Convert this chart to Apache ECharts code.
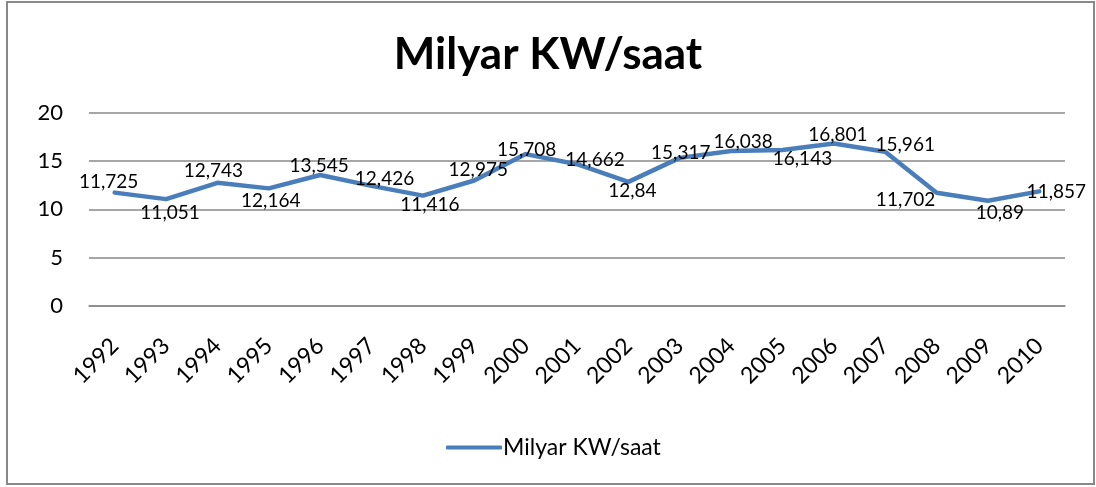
<!DOCTYPE html>
<html>
<head>
<meta charset="utf-8">
<script src="https://cdn.jsdelivr.net/npm/echarts@6/dist/echarts.min.js"></script>
<style>
  html, body { margin: 0; padding: 0; background: #fff; }
  #chart { width: 1096px; height: 487px; }
</style>
</head>
<body>
<div id="chart"></div>
<script>
// Annual electricity figures (milyar KW/saat)
const years = ['1992','1993','1994','1995','1996','1997','1998','1999','2000','2001',
               '2002','2003','2004','2005','2006','2007','2008','2009','2010'];
const values = [11.725, 11.051, 12.743, 12.164, 13.545, 12.426, 11.416, 12.975, 15.708, 14.662,
                12.84, 15.317, 16.038, 16.143, 16.801, 15.961, 11.702, 10.89, 11.857];
const yTicks = [0, 5, 10, 15, 20];
const seriesName = 'Milyar KW/saat';

// Per-point nudges so the value labels sit clear of the line
const labelOffsets = [[-6,-11],[4,14],[-4,-12],[2,13],[-1,-9],[13,-7],[7,9],[4,-11],[1,-4],[18,-4],
                      [4,9],[1,-5],[12,-9],[20,9],[4,-9],[20,-7],[-31,7],[12,12],[17,1]];

const FONT = 'Lato';
const LINE_COLOR = '#4A7EBB';

const chart = echarts.init(document.getElementById('chart'), null, { renderer: 'canvas' });

const seriesData = values.map((v, i) => ({
  value: v,
  label: { offset: labelOffsets[i] }
}));

chart.setOption({
  animation: false,
  backgroundColor: '#ffffff',
  textStyle: { fontFamily: FONT },
  title: {
    text: seriesName,
    left: 'center',
    top: 28,
    textStyle: { fontFamily: FONT, fontWeight: 'bold', fontSize: 44, color: '#000' }
  },
  legend: {
    left: 441,
    top: 431,
    itemWidth: 56,
    itemHeight: 4,
    itemGap: 10,
    icon: 'roundRect',
    data: [seriesName],
    textStyle: { fontFamily: FONT, fontSize: 23, color: '#000', padding: [0, 0, 0, -4] }
  },
  grid: { left: 89, right: 31, top: 112.6, bottom: 181, containLabel: false },
  xAxis: {
    type: 'category',
    data: years,
    boundaryGap: true,
    axisLine: { show: true, lineStyle: { color: '#898989', width: 1.5 } },
    axisTick: { show: false },
    axisLabel: {
      rotate: 45,
      margin: 36,
      interval: 0,
      fontFamily: FONT,
      fontSize: 23,
      color: '#000'
    }
  },
  yAxis: {
    type: 'value',
    min: yTicks[0],
    max: yTicks[yTicks.length - 1],
    interval: 5,
    axisLine: { show: false },
    axisTick: { show: false },
    splitLine: { lineStyle: { color: '#898989', width: 1.5 } },
    axisLabel: { margin: 26, fontFamily: FONT, fontSize: 22, color: '#000' }
  },
  graphic: [{
    type: 'rect',
    shape: { x: 7, y: 2, width: 1087, height: 482 },
    style: { fill: 'none', stroke: '#898989', lineWidth: 2 },
    silent: true,
    z: 100
  }],
  series: [{
    name: seriesName,
    type: 'line',
    data: seriesData,
    symbol: 'circle',
    symbolSize: 1,
    showSymbol: true,
    itemStyle: { color: LINE_COLOR },
    lineStyle: { color: LINE_COLOR, width: 4.5, cap: 'round', join: 'round' },
    emphasis: { disabled: true },
    label: {
      show: true,
      position: 'inside',
      fontFamily: FONT,
      fontSize: 19,
      color: '#000',
      formatter: p => String(p.value).replace('.', ',')
    }
  }]
});
</script>
</body>
</html>
